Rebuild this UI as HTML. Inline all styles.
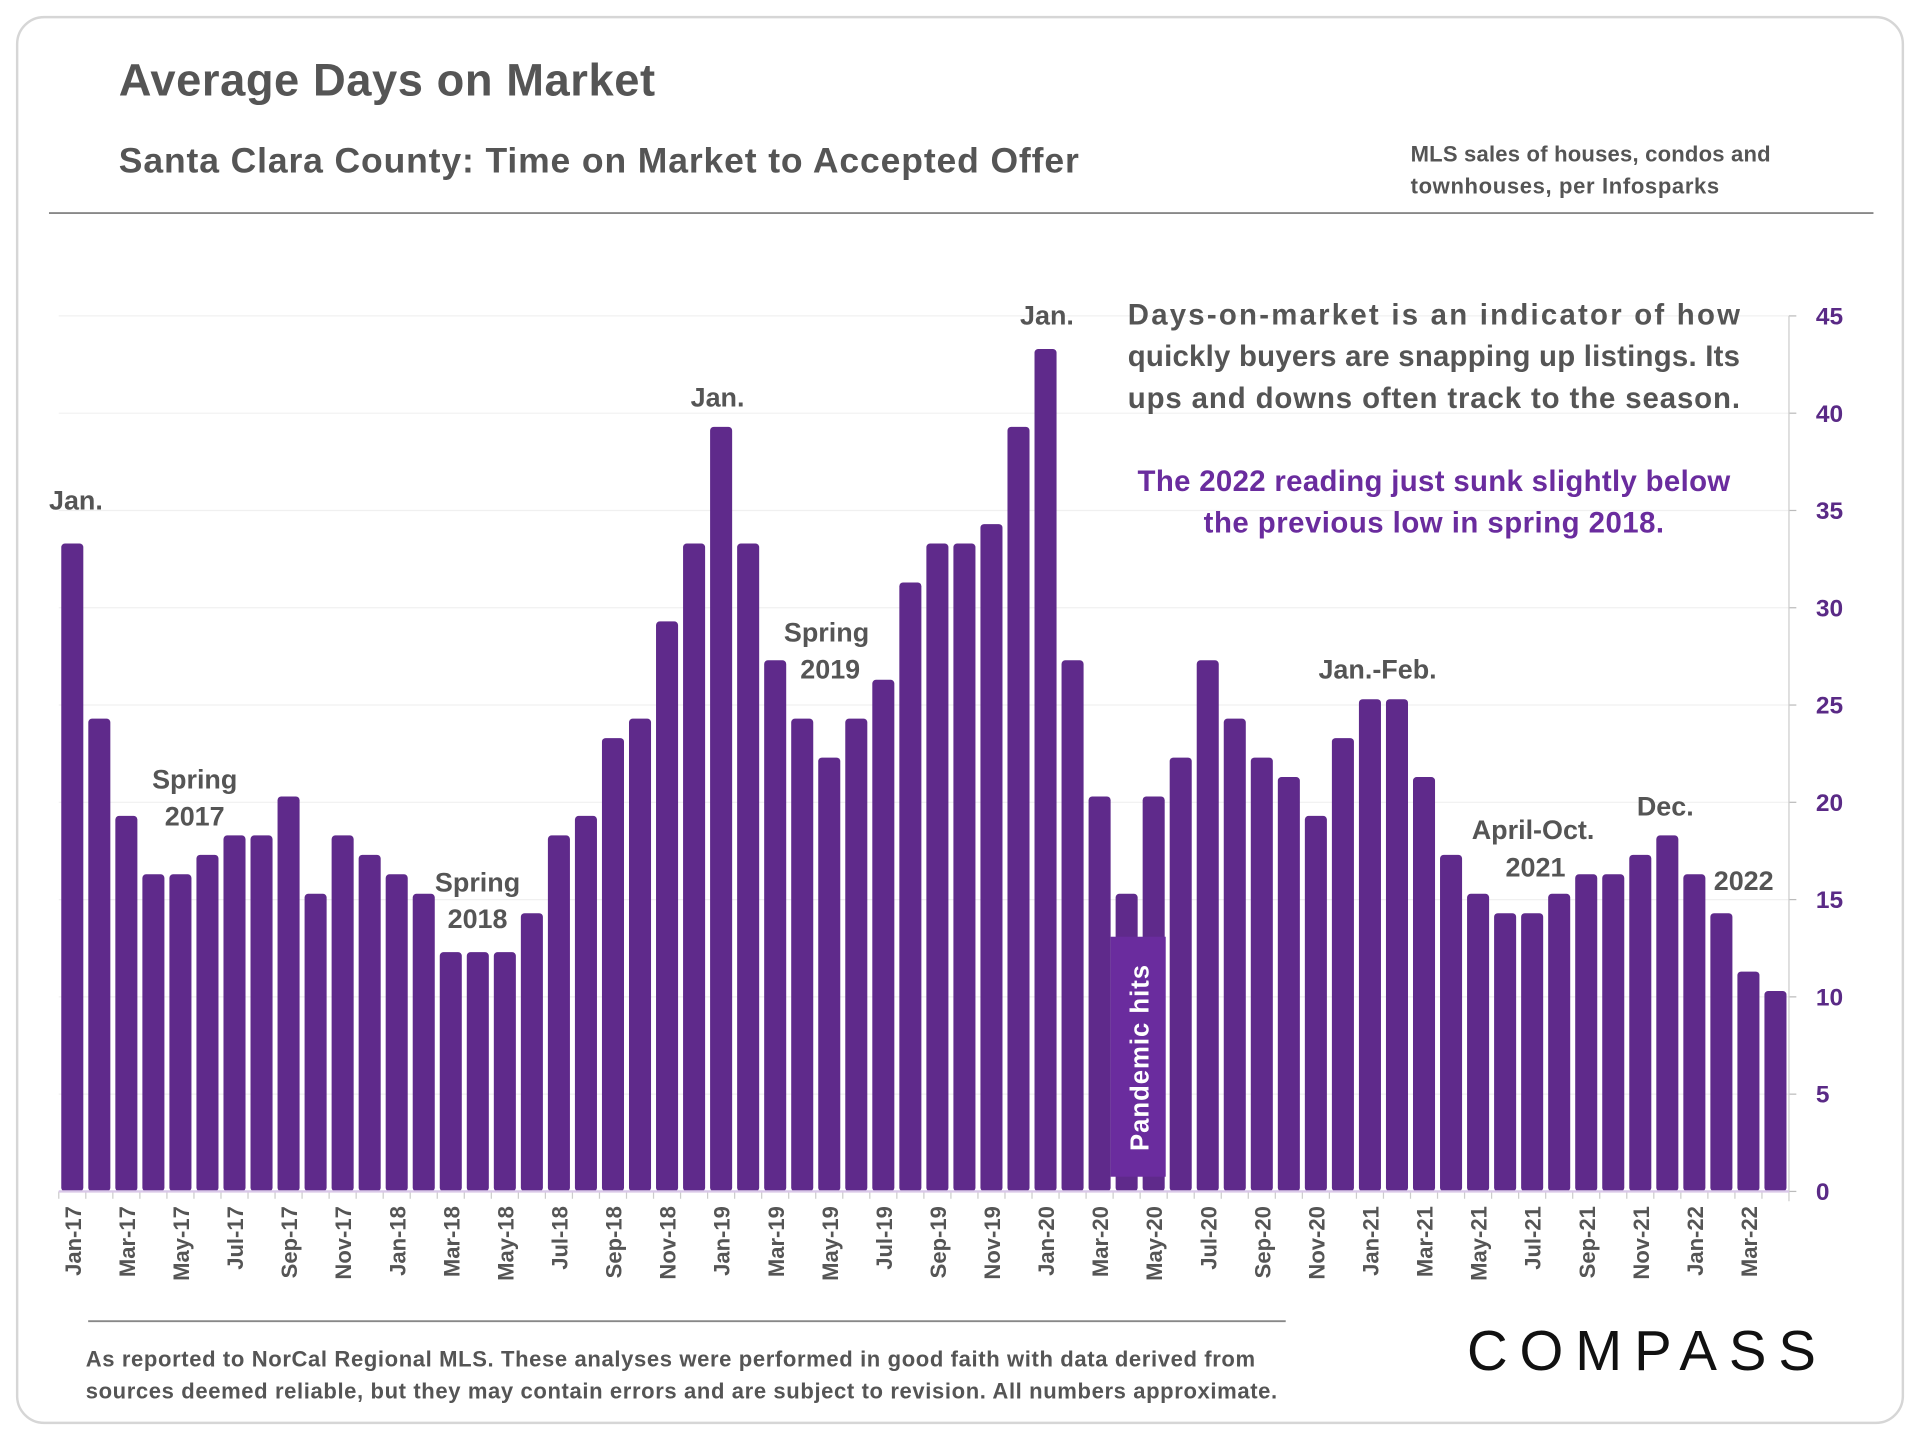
<!DOCTYPE html>
<html><head><meta charset="utf-8"><style>
html,body{margin:0;padding:0;background:#fff}
svg{display:block}
text{font-family:"Liberation Sans",sans-serif}
</style></head><body>
<svg id="chart" width="1920" height="1440" viewBox="0 0 1568 1176" xmlns="http://www.w3.org/2000/svg">
<rect x="14" y="14" width="1540" height="1148" rx="22" fill="#fff" stroke="#d6d6d6" stroke-width="2"/>
<text x="97" y="78" font-size="37" font-weight="bold" fill="#555" textLength="438">Average Days on Market</text>
<text x="97" y="141" font-size="29" font-weight="bold" fill="#555" textLength="784">Santa Clara County: Time on Market to Accepted Offer</text>
<text x="1152" y="132" font-size="18" font-weight="bold" fill="#555" textLength="294">MLS sales of houses, condos and</text>
<text x="1152" y="158" font-size="18" font-weight="bold" fill="#555" textLength="252">townhouses, per Infosparks</text>
<line x1="40" y1="174" x2="1530" y2="174" stroke="#888" stroke-width="1.5"/>
<g id="grid"></g>
<g id="bars"></g>
<g id="xlabels"></g>
<g id="yaxis"></g>
<g>
<rect x="907" y="765" width="45" height="196" fill="#6a2c9e"/>
<text transform="translate(938,940) rotate(-90)" font-size="21" font-weight="bold" fill="#fff" textLength="152">Pandemic hits</text>
</g>
<g font-size="22" font-weight="bold" fill="#555" text-anchor="middle">
<text x="62" y="416">Jan.</text>
<text x="159" y="644">Spring</text><text x="159" y="674">2017</text>
<text x="390" y="728">Spring</text><text x="390" y="758">2018</text>
<text x="586" y="332">Jan.</text>
<text x="675" y="524">Spring</text><text x="678" y="554">2019</text>
<text x="855" y="265">Jan.</text>
<text x="1125" y="554">Jan.-Feb.</text>
<text x="1252" y="685">April-Oct.</text><text x="1254" y="716">2021</text>
<text x="1360" y="666">Dec.</text>
<text x="1424" y="727">2022</text>
</g>
<g font-size="24" font-weight="bold" fill="#555">
<text x="921" y="265" textLength="500">Days-on-market is an indicator of how</text>
<text x="921" y="299" textLength="500">quickly buyers are snapping up listings. Its</text>
<text x="921" y="333" textLength="500">ups and downs often track to the season.</text>
</g>
<g font-size="24" font-weight="bold" fill="#6a2c9e" text-anchor="middle">
<text x="1171" y="401" textLength="484">The 2022 reading just sunk slightly below</text>
<text x="1171" y="435" textLength="376">the previous low in spring 2018.</text>
</g>
<line x1="72" y1="1079" x2="1050" y2="1079" stroke="#888" stroke-width="1.5"/>
<text x="70" y="1116" font-size="18" font-weight="bold" fill="#555" textLength="955">As reported to NorCal Regional MLS. These analyses were performed in good faith with data derived from</text>
<text x="70" y="1142" font-size="18" font-weight="bold" fill="#555" textLength="973">sources deemed reliable, but they may contain errors and are subject to revision. All numbers approximate.</text>
<text x="1198" y="1119" font-size="46" fill="#111" textLength="285">COMPASS</text>
</svg>
<script>
const months=["Jan","Feb","Mar","Apr","May","Jun","Jul","Aug","Sep","Oct","Nov","Dec"];
const years=["17","18","19","20","21","22"];
const values=[33.3,24.3,19.3,16.3,16.3,17.3,18.3,18.3,20.3,15.3,18.3,17.3,
16.3,15.3,12.3,12.3,12.3,14.3,18.3,19.3,23.3,24.3,29.3,33.3,
39.3,33.3,27.3,24.3,22.3,24.3,26.3,31.3,33.3,33.3,34.3,39.3,
43.3,27.3,20.3,15.3,20.3,22.3,27.3,24.3,22.3,21.3,19.3,23.3,
25.3,25.3,21.3,17.3,15.3,14.3,14.3,15.3,16.3,16.3,17.3,18.3,
16.3,14.3,11.3,10.3];
const yTicks=[0,5,10,15,20,25,30,35,40,45];
const categories=values.map((v,i)=>months[i%12]+"-"+years[Math.floor(i/12)]);
const NS="http://www.w3.org/2000/svg";
const x0=48,x1=1461,y0=973,yTop=258,yMax=45;
const n=values.length,step=(x1-x0)/n;
const xC=i=>x0+step*(i+0.5);
const yS=v=>y0-(v/yMax)*(y0-yTop);
function mk(tag,attrs,parent){const e=document.createElementNS(NS,tag);for(const k in attrs)e.setAttribute(k,attrs[k]);parent.appendChild(e);return e;}
const grid=document.getElementById("grid"),bars=document.getElementById("bars"),xl=document.getElementById("xlabels"),ya=document.getElementById("yaxis");
yTicks.forEach(t=>{
 const g=mk("line",{x1:x0,x2:x1,y1:yS(t),y2:yS(t),stroke:"#f0f0f0","stroke-width":1},grid);
 
 
 const tk=mk("line",{x1:x1,x2:x1+6,y1:yS(t),y2:yS(t),stroke:"#bbb"},ya);
 
 
 const tl=mk("text",{x:x1+22,y:yS(t)+7,"font-size":20,"font-weight":"bold",fill:"#5a2a86"},ya);
 tl.textContent=t;
 
 
});
const ax=mk("line",{x1:x1,x2:x1,y1:yTop,y2:y0+8,stroke:"#ccc"},ya);


const bx=mk("line",{x1:x0,x2:x1,y1:y0,y2:y0,stroke:"#d9c8e8","stroke-width":2},ya);


const bw=18;
values.forEach((v,i)=>{
 const yy=yS(v);
 const b=mk("rect",{x:xC(i)-bw/2,y:yy,width:bw,height:y0-yy,rx:3,fill:"#5f2a8b"},bars);
 
 
 const tk=mk("line",{x1:x0+step*i,x2:x0+step*i,y1:y0,y2:y0+6,stroke:"#ccc"},xl);
 
 
 if(i%2===0){
  const t=mk("text",{transform:`translate(${xC(i)+7},${y0+12}) rotate(-90)`,"text-anchor":"end","font-size":18,"font-weight":"bold",fill:"#555"},xl);
  t.textContent=categories[i];
  
  
 }
});
</script>
</body></html>
